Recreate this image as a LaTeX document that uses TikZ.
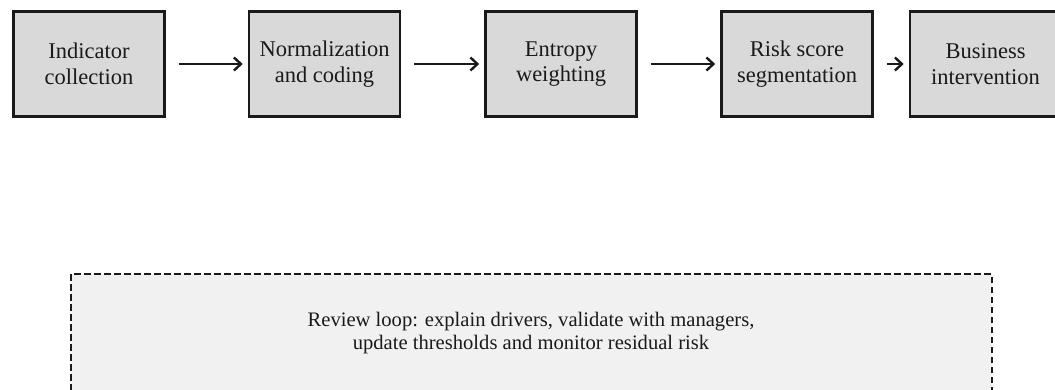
\documentclass[tikz,border=0pt]{standalone}
\usepackage{fontspec}
\setmainfont{Liberation Serif}
\usetikzlibrary{arrows.meta}
\definecolor{stepfill}{HTML}{D9D9D9}
\definecolor{loopfill}{HTML}{F1F1F1}
\definecolor{ink}{HTML}{1A1A1A}
\tikzset{
  stepbox/.style={draw=ink, fill=stepfill, line width=2.6pt, minimum width=151pt,
    minimum height=105pt, inner sep=0pt, align=center,
    font=\fontsize{22.5}{25.5}\selectfont, text=ink},
  flow/.style={draw=ink, line width=2.4pt,
    -{Straight Barb[length=7pt,width=13pt,line width=2.4pt]},
    shorten <=13pt, shorten >=5pt},
  loopbox/.style={draw=ink, fill=loopfill, line width=2pt, dash pattern=on 6.5pt off 3.5pt,
    minimum width=921pt, minimum height=118pt, inner sep=0pt, align=center,
    font=\fontsize{20.6}{23.5}\selectfont, text=ink}
}
\begin{document}
\begin{tikzpicture}[x=1pt, y=-1pt]
  \useasboundingbox (0,0) rectangle (1055,389);
  \clip (0,0) rectangle (1055,389);
  \fill[white] (0,0) rectangle (1055,389);

  % pipeline stages
  \node[stepbox] (collect) at (89,64)    {Indicator\\collection};
  \node[stepbox] (norm)    at (324.5,64) {Normalization\\and coding};
  \node[stepbox] (entropy) at (561,64)   {Entropy\\weighting};
  \node[stepbox] (segment) at (797,64)   {Risk score\\segmentation};
  \node[stepbox] (action)  at (985.5,64) {Business\\intervention};

  \draw[flow] (collect) -- (norm);
  \draw[flow] (norm) -- (entropy);
  \draw[flow] (entropy) -- (segment);
  \draw[flow] (segment) -- (action);

  % feedback loop
  \node[loopbox] (review) at (531,333)
    {Review loop: explain drivers, validate with managers,\\update thresholds and monitor residual risk};
\end{tikzpicture}
\end{document}
